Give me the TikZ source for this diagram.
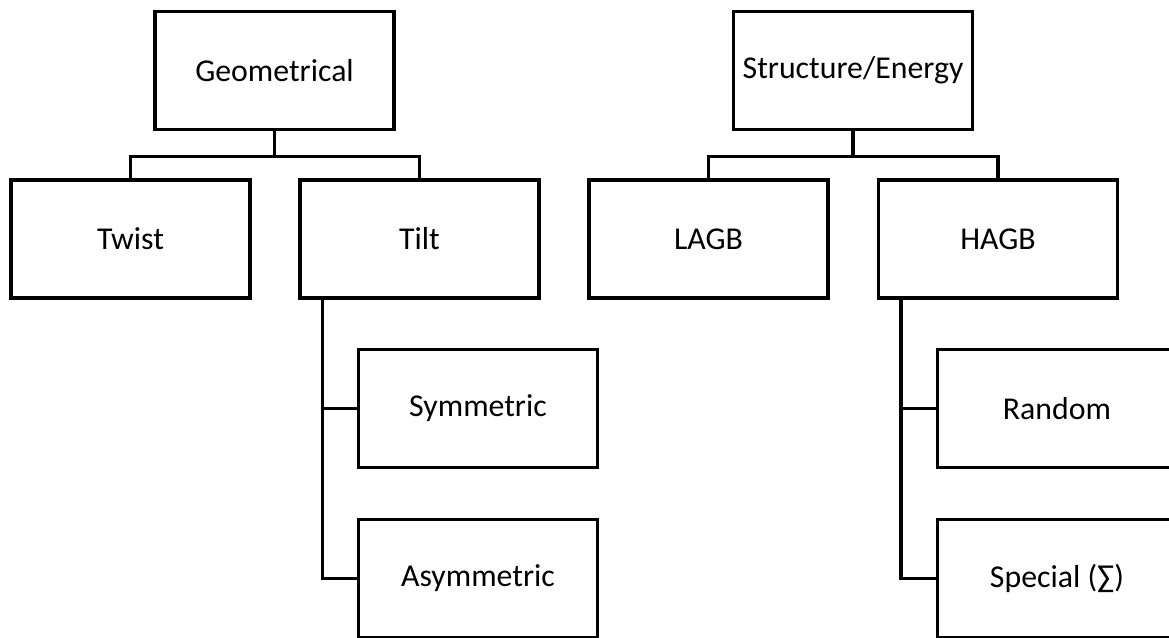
\documentclass[tikz,border=0pt]{standalone}
\usepackage{fontspec}
\setmainfont{Carlito}
\begin{document}
\begin{tikzpicture}[x=1pt,y=-1pt,
  box/.style={draw, line width=3.5pt, minimum width=239pt, minimum height=118pt,
    inner sep=0pt, font=\fontsize{31.8}{38}\selectfont},
  conn/.style={line width=3.5pt}]
\useasboundingbox (0,0) rectangle (1169,637);
\clip (0,0) rectangle (1169,637);
\node[box] (geo) at (274.5,70.5) {Geometrical};
\node[box] (se) at (853,70.5) {Structure/Energy};
\node[box] (twist) at (130.5,239) {Twist};
\node[box] (tilt) at (419.5,239) {Tilt};
\node[box] (lagb) at (708.5,239) {LAGB};
\node[box] (hagb) at (998,239) {HAGB};
\node[box] (sym) at (478,408.5) {Symmetric};
\node[box] (asym) at (478,578.5) {Asymmetric};
\node[box] (rand) at (1057,408.5) {Random};
\node[box] (spec) at (1057,578.5) {Special (∑)};
\draw[conn] (geo.south) -- ++(0,25) coordinate (gj);
\draw[conn] (twist.north) |- (gj) -| (tilt.north);
\draw[conn] (se.south) -- ++(0,25) coordinate (sj);
\draw[conn] (lagb.north) |- (sj) -| (hagb.north);
\draw[conn] ([xshift=24pt]tilt.south west) coordinate (tt) |- (sym.west);
\draw[conn] (tt) |- (asym.west);
\draw[conn] ([xshift=24pt]hagb.south west) coordinate (ht) |- (rand.west);
\draw[conn] (ht) |- (spec.west);
\end{tikzpicture}
\end{document}
